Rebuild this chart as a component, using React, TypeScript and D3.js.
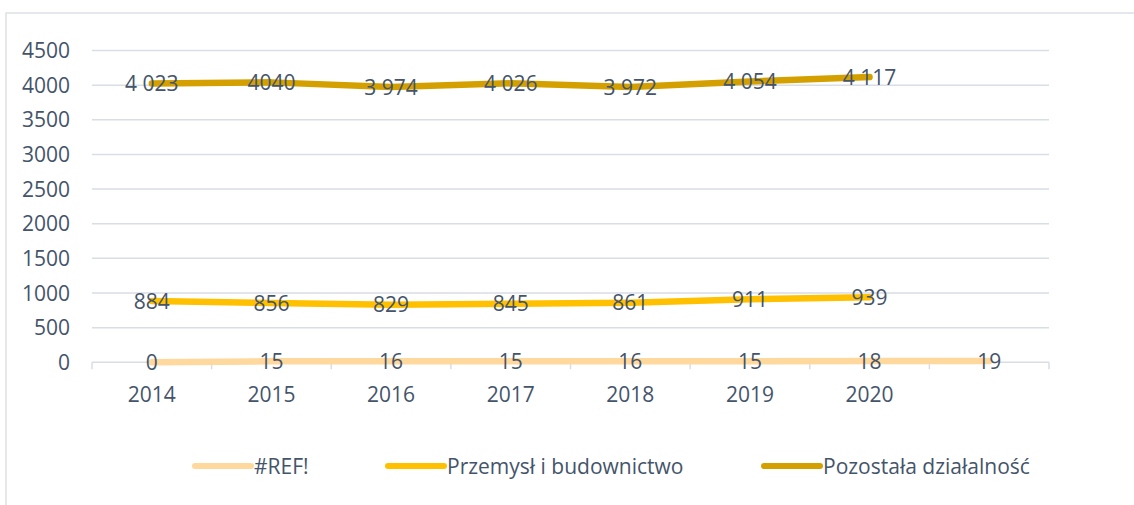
import React from "react";
import * as d3 from "d3";

const categories = ["2014", "2015", "2016", "2017", "2018", "2019", "2020", ""];
const refValues = [0, 15, 16, 15, 16, 15, 18, 19];
const przemyslValues = [884, 856, 829, 845, 861, 911, 939];
const pozostalaValues = [4023, 4040, 3974, 4026, 3972, 4054, 4117];
const pozostalaLabels = ["4 023", "4040", "3 974", "4 026", "3 972", "4 054", "4 117"];
const yTicks = [0, 500, 1000, 1500, 2000, 2500, 3000, 3500, 4000, 4500];
const seriesNames = ["#REF!", "Przemysł i budownictwo", "Pozostała działalność"];
const seriesColors = ["#FFD89E", "#FFC000", "#D4A000"];

const W = 1134;
const H = 505;
const FONT = "'Open Sans', sans-serif";
const TEXT = "#44546A";
const GRID = "#D9DEE6";
const FS = 21;

export default function App() {
  const x0 = 92, x1 = 1049;
  const band = d3.scaleBand<string>().domain(categories.map((c, i) => String(i))).range([x0, x1]);
  const cx = (i: number) => (band(String(i)) as number) + band.bandwidth() / 2;
  const y = d3.scaleLinear().domain([0, 4500]).range([362.3, 50.5]);

  const line = d3.line<number>().x((_, i) => cx(i)).y((v) => y(v));

  const series = [
    { values: refValues, labels: refValues.map(String), color: seriesColors[0] },
    { values: przemyslValues, labels: przemyslValues.map(String), color: seriesColors[1] },
    { values: pozostalaValues, labels: pozostalaLabels, color: seriesColors[2] },
  ];

  const legendX = [195, 388, 764];

  return (
    <div style={{ position: "fixed", left: 0, top: 0, width: W, height: H, background: "#fff" }}>
      <svg width={W} height={H} style={{ display: "block" }} fontFamily={FONT}>
        <rect x={0} y={0} width={W} height={H} fill="#fff" />
        <path d={`M6,${H} V13 H${W}`} fill="none" stroke="#DCE0E6" strokeWidth={1.5} />
        {yTicks.map((t) => (
          <g key={t}>
            <line x1={x0} x2={x1} y1={y(t)} y2={y(t)} stroke={GRID} strokeWidth={1.5} />
            <text x={70} y={y(t)} dy="0.36em" textAnchor="end" fontSize={FS} fill={TEXT}>
              {t}
            </text>
          </g>
        ))}
        {d3.range(categories.length + 1).map((k) => {
          const xx = x0 + k * band.bandwidth();
          return <line key={k} x1={xx} x2={xx} y1={y(0)} y2={y(0) + 7} stroke={GRID} strokeWidth={1.5} />;
        })}
        {categories.map((c, i) => (
          <text key={i} x={cx(i)} y={394} dy="0.36em" textAnchor="middle" fontSize={FS} fill={TEXT}>
            {c}
          </text>
        ))}
        {series.map((s, si) => (
          <path key={si} d={line(s.values) || ""} fill="none" stroke={s.color} strokeWidth={6.5} strokeLinecap="round" strokeLinejoin="round" />
        ))}
        {series.map((s, si) =>
          s.values.map((v, i) => (
            <text key={`${si}-${i}`} x={cx(i)} y={y(v)} dy="0.36em" textAnchor="middle" fontSize={FS} fill={TEXT}>
              {s.labels[i]}
            </text>
          ))
        )}
        {seriesNames.map((n, i) => (
          <g key={n}>
            <line x1={legendX[i]} x2={legendX[i] + 56} y1={466} y2={466} stroke={seriesColors[i]} strokeWidth={6} strokeLinecap="round" />
            <text x={legendX[i] + 59} y={466} dy="0.36em" fontSize={FS} fill={TEXT}>
              {n}
            </text>
          </g>
        ))}
      </svg>
    </div>
  );
}
